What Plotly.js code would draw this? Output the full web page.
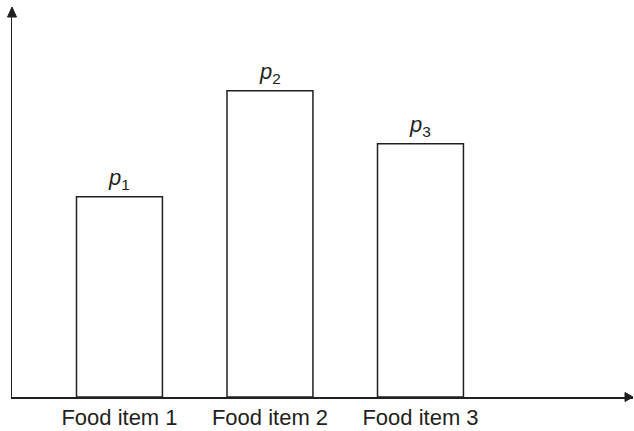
<!DOCTYPE html>
<html>
<head>
<meta charset="utf-8">
<script src="https://cdn.plot.ly/plotly-3.0.1.min.js"></script>
<style>html,body{margin:0;padding:0;background:#fff;}#chart{width:634px;height:431px;}</style>
</head>
<body>
<div id="chart"></div>
<script>
// Data
const categories = ["Food item 1", "Food item 2", "Food item 3"];
const values = [0.515, 0.787, 0.651];
const valueLabels = ["<i>p</i><sub>1</sub>", "<i>p</i><sub>2</sub>", "<i>p</i><sub>3</sub>"];

const ink = "#231f20";
const font = "Liberation Sans, Arial, Helvetica, sans-serif";

const trace = {
  type: "bar",
  x: categories,
  y: values,
  marker: { color: "#ffffff", line: { color: ink, width: 1.5 } },
  hoverinfo: "skip"
};

const annotations = categories.map((c, i) => ({
  x: c, y: values[i], xref: "x", yref: "y",
  text: valueLabels[i], showarrow: false,
  yanchor: "bottom", yshift: 2,
  font: { family: font, size: 22, color: ink }
}));

// axis arrowheads as shapes
const shapes = [
  {
    type: "path", xref: "paper", yref: "paper",
    xsizemode: "pixel", ysizemode: "pixel", xanchor: 0, yanchor: 1,
    path: "M-4.5,-9 L4.5,-9 L0,1 Z",
    fillcolor: ink, line: { color: ink, width: 1 }
  },
  {
    type: "path", xref: "paper", yref: "paper",
    xsizemode: "pixel", ysizemode: "pixel", xanchor: 1, yanchor: 0,
    path: "M-8,-4.5 L-8,4.5 L0,0 Z",
    fillcolor: ink, line: { color: ink, width: 1 }
  }
];

const layout = {
  width: 634, height: 431,
  margin: { l: 12, r: 1, t: 8, b: 34 },
  paper_bgcolor: "#ffffff", plot_bgcolor: "#ffffff",
  showlegend: false,
  bargap: 0.429,
  xaxis: {
    type: "category",
    range: [-0.714, 3.412],
    showline: true, linecolor: ink, linewidth: 1.5,
    showgrid: false, zeroline: false, ticks: "",
    tickfont: { family: font, size: 22, color: ink },
    automargin: false, fixedrange: true
  },
  yaxis: {
    range: [0, 1],
    showline: true, linecolor: ink, linewidth: 1.5,
    showgrid: false, zeroline: false, ticks: "", showticklabels: false,
    automargin: false, fixedrange: true
  },
  annotations: annotations,
  shapes: shapes
};

Plotly.newPlot("chart", [trace], layout, { staticPlot: true, displayModeBar: false });
</script>
</body>
</html>
